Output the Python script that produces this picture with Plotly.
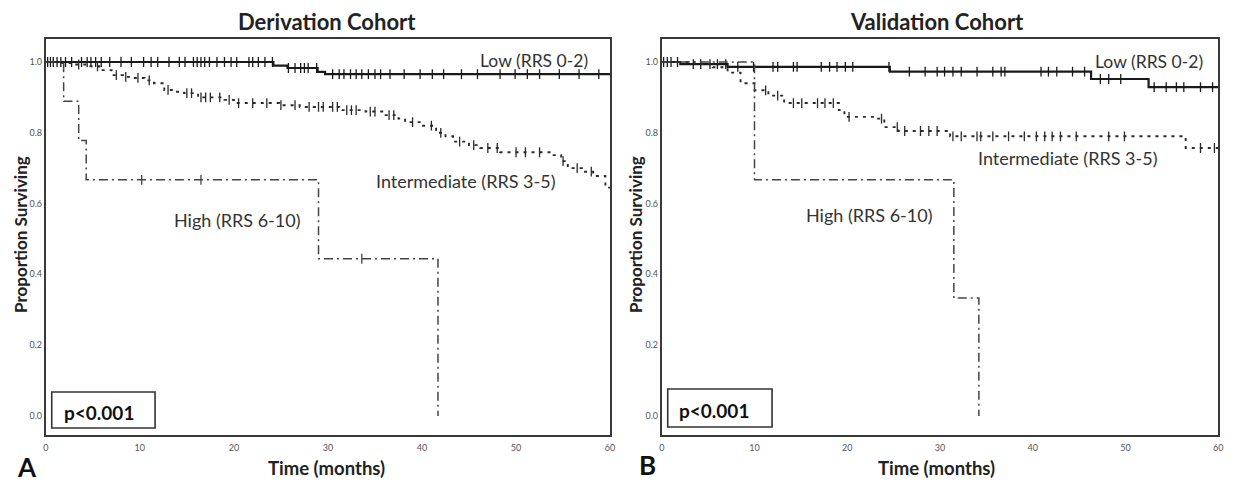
import numpy as np
import plotly.graph_objects as go

W, H = 1243, 485
OFF = 8  # page body margin offset
FW, FH = W - OFF, H - OFF

# ---------------- Data ----------------
# Derivation cohort
d_low_t = [0, 24.2, 25.7, 28.9, 29.7]
d_low_s = [1.0, 0.990, 0.983, 0.972, 0.966]
d_low_c = [0.2, 0.5, 0.8, 1.2, 1.6, 2.1, 2.75, 3.8, 4.4, 4.8, 5.3, 5.9, 6.8, 8.0, 9.1, 10.4, 11.2,
           11.9, 13.1, 14.2, 14.8, 15.7, 16.1, 16.5, 16.9, 17.4, 18.2, 19.0, 19.7, 20.3, 21.6,
           22.0, 22.6, 23.3, 24.1, 25.8, 26.5, 27.1, 27.5, 27.9, 28.8, 30.5, 31.2, 31.7, 32.4,
           33.0, 33.6, 34.3, 35.0, 35.6, 36.6, 38.1, 39.8, 41.1, 42.3, 44.2, 45.9, 48.3, 49.9,
           51.2, 52.5, 54.6, 56.7, 58.8]

d_int_t = [0, 1.5, 3.0, 4.5, 5.7, 7.0, 8.2, 9.1, 10.5, 11.5, 12.6, 13.6, 14.7, 16.2, 19.0, 20.0,
           24.8, 27.0, 31.2, 34.0, 36.0, 37.5, 38.2, 40.0, 41.5, 42.5, 43.3, 45.0, 46.2, 48.3,
           53.8, 54.8, 55.5, 57.0, 58.2, 59.5]
d_int_s = [1.0, 0.997, 0.993, 0.988, 0.977, 0.963, 0.958, 0.955, 0.948, 0.940, 0.921, 0.916,
           0.912, 0.900, 0.893, 0.884, 0.878, 0.873, 0.864, 0.860, 0.850, 0.840, 0.830, 0.820,
           0.800, 0.790, 0.775, 0.765, 0.757, 0.745, 0.737, 0.720, 0.700, 0.690, 0.678, 0.645]
d_int_c = [3.5, 5.5, 7.5, 8.5, 9.8, 11.0, 13.0, 15.0, 15.5, 16.5, 17.0, 17.5, 18.5, 19.5, 20.5,
           22.0, 23.5, 25.0, 26.5, 28.0, 29.0, 29.5, 30.5, 31.0, 32.0, 32.5, 33.0, 34.5, 35.0,
           36.5, 37.0, 39.0, 41.0, 42.0, 44.0, 45.5, 47.0, 48.0, 50.0, 51.0, 52.5, 55.0, 56.5,
           58.0]

d_high_t = [0, 1.9, 3.5, 4.3, 29.0, 41.7]
d_high_s = [1.0, 0.889, 0.778, 0.667, 0.444, 0.0]
d_high_c = [10.2, 16.5, 33.6]

# Validation cohort
v_low_t = [0, 2.0, 7.1, 24.6, 46.3, 52.5]
v_low_s = [1.0, 0.994, 0.986, 0.973, 0.952, 0.929]
v_low_c = [0.2, 0.6, 1.0, 1.7, 3.4, 4.2, 5.2, 6.0, 6.9, 8.2, 9.9, 12.0, 12.5, 14.2, 14.6, 17.2,
           18.1, 18.9, 19.8, 20.6, 24.5, 26.7, 28.4, 29.7, 30.5, 31.4, 32.3, 34.0, 35.7, 36.6,
           37.0, 40.9, 41.7, 42.6, 44.3, 45.6, 47.3, 48.2, 49.5, 53.1, 54.4, 55.5, 56.3, 58.1,
           59.4]

v_int_t = [0, 3.5, 5.5, 7.1, 8.5, 10.0, 11.5, 13.2, 19.1, 19.7, 23.2, 24.0, 25.5, 31.1, 56.5]
v_int_s = [1.0, 0.995, 0.985, 0.970, 0.940, 0.920, 0.905, 0.884, 0.864, 0.845, 0.840, 0.816,
           0.805, 0.790, 0.757]
v_int_c = [11.2, 12.5, 14.2, 15.1, 16.8, 17.6, 18.5, 20.2, 23.7, 25.4, 26.2, 27.9, 28.8, 29.7,
           31.4, 32.3, 34.0, 34.4, 35.7, 37.4, 39.1, 40.4, 41.3, 42.1, 43.0, 44.7, 48.2, 49.9,
           58.1, 59.6]

v_high_t = [0, 10.0, 31.5, 34.2]
v_high_s = [1.0, 0.667, 0.333, 0.0]
v_high_c = []

x_ticks = [0, 10, 20, 30, 40, 50, 60]
y_ticks = [0.0, 0.2, 0.4, 0.6, 0.8, 1.0]

titles = ["Derivation Cohort", "Validation Cohort"]
group_labels = ["Low (RRS 0-2)", "Intermediate (RRS 3-5)", "High (RRS 6-10)"]
panel_letters = ["A", "B"]
p_text = "p<0.001"
x_title = "Time (months)"
y_title = "Proportion Surviving"

# ---------------- Helpers ----------------
def px(x):
    return (x - OFF) / FW

def py(y):
    return 1 - (y - OFF) / FH

def step_val(times, surv, c):
    idx = np.searchsorted(np.array(times), np.array(c, dtype=float), side="right") - 1
    return list(np.array(surv)[idx]) if len(c) else []

FONT = "Lato"

fig = go.Figure()

panels = [
    dict(ax="x", ay="y", curves=[(d_low_t, d_low_s, d_low_c, 0), (d_int_t, d_int_s, d_int_c, 1),
                                 (d_high_t, d_high_s, d_high_c, 2)]),
    dict(ax="x2", ay="y2", curves=[(v_low_t, v_low_s, v_low_c, 0), (v_int_t, v_int_s, v_int_c, 1),
                                   (v_high_t, v_high_s, v_high_c, 2)]),
]

styles = [
    dict(dash="solid", width=2.2, color="#1a1a1a"),
    dict(dash="3px,5px", width=1.9, color="#2a2a2a"),
    dict(dash="9px,4px,2px,4px", width=1.5, color="#444444"),
]

for p in panels:
    for t, s, c, k in p["curves"]:
        st = styles[k]
        xs = list(t) + [60 if k != 2 else t[-1]]
        ys = list(s) + [s[-1]]
        fig.add_trace(go.Scatter(x=xs, y=ys, mode="lines", line_shape="hv",
                                 line=dict(color=st["color"], width=st["width"], dash=st["dash"]),
                                 xaxis=p["ax"], yaxis=p["ay"], showlegend=False,
                                 hoverinfo="skip"))
        if len(c):
            fig.add_trace(go.Scatter(x=c, y=step_val(t, s, c), mode="markers",
                                     marker=dict(symbol="line-ns", size=7,
                                                 line=dict(color=st["color"], width=1.3)),
                                     xaxis=p["ax"], yaxis=p["ay"], showlegend=False,
                                     hoverinfo="skip"))

# ---------------- Layout ----------------
y_dom = [py(435), py(39)]
axis_common = dict(showline=True, linecolor="#3a3a3a", linewidth=1.8, mirror=True,
                   showgrid=False, zeroline=False, ticks="",
                   tickfont=dict(family=FONT, size=9, color="#555555"))

fig.update_layout(
    width=FW, height=FH, margin=dict(l=0, r=0, t=0, b=0),
    paper_bgcolor="white", plot_bgcolor="white",
    xaxis=dict(domain=[px(43), px(611)], range=[0, 60], tickvals=x_ticks, anchor="y",
               ticklabelstandoff=3, **axis_common),
    yaxis=dict(domain=y_dom, range=[-0.054, 1.065], tickvals=y_ticks, tickformat=".1f",
               anchor="x", **axis_common),
    xaxis2=dict(domain=[px(663), px(1223)], range=[0, 60], tickvals=x_ticks, anchor="y2",
                ticklabelstandoff=3, **axis_common),
    yaxis2=dict(domain=y_dom, range=[-0.054, 1.065], tickvals=y_ticks, tickformat=".1f",
                anchor="x2", **axis_common),
)

ann = []
def text(x, y, s, size, bold=False, angle=0, xanchor="center", color="#222222"):
    ann.append(dict(x=px(x), y=py(y), xref="paper", yref="paper", text=(f"<b>{s}</b>" if bold else s),
                    showarrow=False, xanchor=xanchor, yanchor="middle", textangle=angle,
                    font=dict(family=FONT, size=size, color=color)))

# titles
text(326, 21, titles[0], 22, bold=True)
text(940, 21, titles[1], 22, bold=True)
# axis titles
text(17, 234, y_title, 17, bold=True, angle=-90)
text(636, 234, y_title, 17, bold=True, angle=-90)
text(326, 468, x_title, 18.5, bold=True)
text(940, 468, x_title, 18.5, bold=True)
# panel letters
text(24, 467, panel_letters[0], 26, bold=True, color="#111111")
text(649, 465, panel_letters[1], 26, bold=True, color="#111111")
# group labels (left)
text(591, 60, group_labels[0], 17.5, xanchor="right", color="#333333")
text(558, 181, group_labels[1], 18, xanchor="right", color="#333333")
text(302, 220, group_labels[2], 18, xanchor="right", color="#333333")
# group labels (right)
text(1210, 62, group_labels[0], 17.5, xanchor="right", color="#333333")
text(1163, 158, group_labels[1], 18, xanchor="right", color="#333333")
text(938, 215, group_labels[2], 18, xanchor="right", color="#333333")
# p values
text(97, 412, p_text, 19, bold=True, color="#111111")
text(716, 410, p_text, 19, bold=True, color="#111111")

shapes = [
    dict(type="rect", xref="paper", yref="paper", x0=px(49), x1=px(153), y0=py(428), y1=py(392),
         line=dict(color="#333333", width=1.6), fillcolor="rgba(0,0,0,0)"),
    dict(type="rect", xref="paper", yref="paper", x0=px(669), x1=px(774), y0=py(427), y1=py(389),
         line=dict(color="#333333", width=1.6), fillcolor="rgba(0,0,0,0)"),
]

fig.update_layout(annotations=ann, shapes=shapes)
fig.write_html("out.html")
